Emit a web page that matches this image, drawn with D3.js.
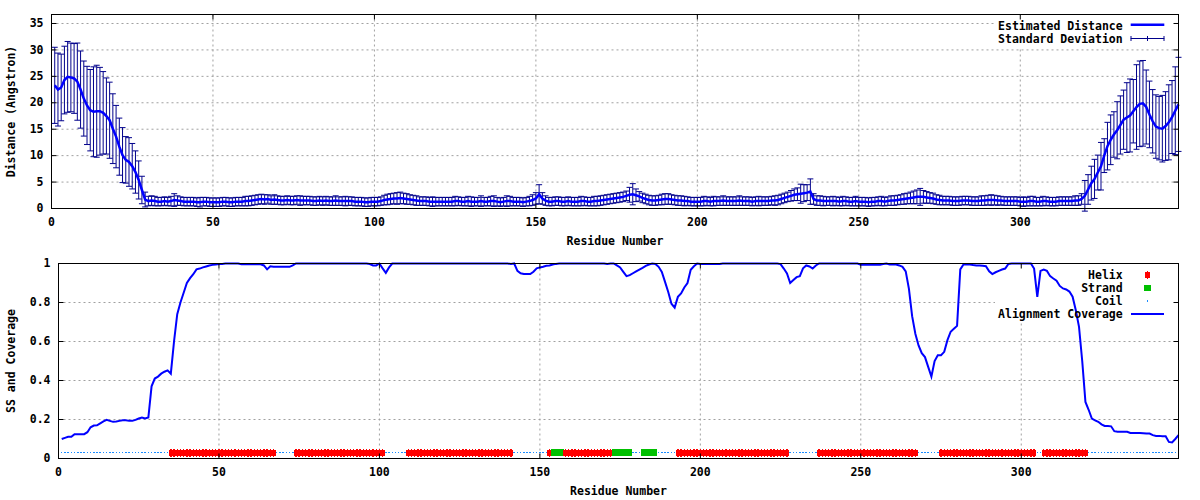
<!DOCTYPE html>
<html><head><meta charset="utf-8">
<script src="https://cdn.jsdelivr.net/npm/d3@7"></script>
<style>
body{margin:0;background:#fff}
svg text{font-family:"DejaVu Sans Mono","Liberation Mono",monospace;font-weight:bold;font-size:11.5px;fill:#000}
</style></head><body><svg id="c" width="1200" height="500"></svg>
<script>
// ---------------- data ----------------
const residueCount = 349;
const xTicks = [0, 50, 100, 150, 200, 250, 300];
const distTicks = [0, 5, 10, 15, 20, 25, 30, 35];
const covTicks = [0, 0.2, 0.4, 0.6, 0.8, 1];
const covTickLabels = ["0", "0.2", "0.4", "0.6", "0.8", "1"];

const distance = [
 23.3,22.5,22.9,24.3,24.9,24.8,24.6,24.0,22.5,20.8,
 19.5,18.6,18.3,18.4,18.4,18.1,17.5,16.7,15.1,13.6,
 11.7,10.1,9.2,8.8,8.0,6.9,5.4,3.5,1.7,1.4,
 1.5,1.4,1.3,1.3,1.4,1.3,1.4,1.6,1.5,1.4,
 1.3,1.3,1.3,1.3,1.2,1.2,1.3,1.3,1.2,1.2,
 1.2,1.2,1.3,1.3,1.2,1.2,1.3,1.3,1.3,1.4,
 1.4,1.5,1.6,1.7,1.8,1.7,1.8,1.6,1.7,1.6,
 1.5,1.5,1.6,1.5,1.5,1.6,1.5,1.5,1.5,1.5,
 1.4,1.4,1.5,1.4,1.5,1.4,1.4,1.5,1.4,1.4,
 1.4,1.4,1.4,1.3,1.3,1.3,1.2,1.2,1.3,1.3,
 1.3,1.4,1.6,1.7,1.8,1.9,1.9,2.0,1.9,1.8,
 1.7,1.6,1.5,1.4,1.4,1.4,1.3,1.3,1.3,1.3,
 1.3,1.3,1.3,1.3,1.4,1.4,1.3,1.3,1.4,1.3,
 1.3,1.3,1.4,1.3,1.3,1.4,1.4,1.3,1.2,1.3,
 1.4,1.4,1.3,1.3,1.3,1.2,1.3,1.4,1.6,1.9,
 2.7,1.9,1.5,1.3,1.3,1.4,1.4,1.3,1.3,1.4,
 1.3,1.3,1.3,1.4,1.4,1.3,1.3,1.4,1.4,1.5,
 1.6,1.7,1.8,1.9,2.0,2.1,2.2,2.4,2.6,2.7,
 2.5,2.3,2.0,1.8,1.6,1.5,1.5,1.6,1.7,1.8,
 1.8,1.7,1.6,1.5,1.5,1.4,1.4,1.3,1.3,1.3,
 1.3,1.4,1.4,1.3,1.4,1.4,1.4,1.5,1.4,1.4,
 1.4,1.4,1.5,1.4,1.4,1.4,1.3,1.4,1.4,1.4,
 1.4,1.4,1.5,1.5,1.6,1.8,2.0,2.2,2.4,2.6,
 2.7,2.8,2.9,3.0,3.2,1.8,1.5,1.5,1.4,1.4,
 1.4,1.4,1.4,1.3,1.4,1.4,1.3,1.3,1.4,1.3,
 1.3,1.3,1.2,1.3,1.3,1.4,1.4,1.3,1.4,1.5,
 1.5,1.6,1.7,1.8,1.9,2.0,2.1,2.2,2.2,2.2,
 2.1,2.0,1.9,1.7,1.6,1.5,1.5,1.5,1.4,1.4,
 1.4,1.5,1.5,1.5,1.4,1.4,1.4,1.5,1.5,1.6,
 1.6,1.6,1.5,1.5,1.4,1.4,1.4,1.4,1.4,1.3,
 1.3,1.3,1.4,1.4,1.3,1.3,1.4,1.4,1.3,1.3,
 1.3,1.4,1.4,1.4,1.4,1.4,1.5,1.5,1.8,2.4,
 3.6,4.8,5.6,6.8,8.0,10.0,11.8,13.0,14.0,14.8,
 15.8,16.8,17.2,17.6,18.4,19.2,19.8,19.9,19.2,17.8,
 16.5,15.5,15.2,15.1,15.6,16.3,17.3,18.5,19.7
];

const stdDev = [
 7.2,6.9,6.3,6.4,6.7,6.5,6.6,7.3,7.3,7.1,
 7.4,7.7,8.5,8.7,8.3,7.8,7.2,7.2,6.6,5.9,
 5.4,5.2,4.4,4.6,4.3,4.0,3.6,2.6,1.4,0.9,
 0.9,0.9,0.8,0.8,0.8,0.8,0.9,1.2,0.9,0.8,
 0.8,0.8,0.8,0.8,0.8,0.9,0.8,0.8,0.8,0.8,
 0.8,0.8,0.8,0.8,0.8,0.8,0.8,0.8,0.8,0.9,
 0.9,0.9,0.9,0.9,0.9,0.9,0.8,0.8,0.9,0.8,
 0.8,0.8,0.8,0.8,0.8,0.8,0.9,0.8,0.8,0.8,
 0.8,0.8,0.8,0.8,0.8,0.8,0.8,0.9,0.8,0.8,
 0.9,0.8,0.8,0.8,0.8,0.8,0.8,0.8,0.8,0.8,
 0.8,0.8,0.9,1.0,1.0,1.0,1.1,1.1,1.0,1.0,
 0.9,0.9,0.9,0.8,0.8,0.8,0.8,0.9,0.8,0.8,
 0.8,0.8,0.8,0.8,0.9,0.8,0.8,0.8,0.9,0.9,
 0.8,0.8,1.0,0.8,0.8,0.9,1.0,0.8,0.8,0.8,
 1.0,0.9,0.8,0.8,0.8,0.8,0.8,0.9,1.0,1.1,
 1.8,1.1,0.9,0.8,0.8,0.8,0.8,0.8,0.8,0.8,
 0.8,0.8,0.8,0.9,0.8,0.8,0.8,0.9,0.9,0.9,
 0.9,0.9,0.9,0.9,0.9,0.9,0.9,0.9,1.4,2.0,
 1.2,0.9,0.9,0.9,0.9,0.9,0.9,0.9,1.0,1.0,
 1.0,0.9,0.9,0.9,0.9,0.9,0.8,0.8,0.8,0.8,
 0.8,0.9,0.8,0.8,0.9,0.8,0.8,0.9,0.8,0.8,
 0.8,0.8,0.9,0.8,0.8,0.8,0.8,0.8,0.9,0.8,
 0.8,0.8,0.8,0.9,0.9,0.9,0.9,0.9,1.0,1.1,
 1.2,1.8,1.6,1.5,2.4,1.0,0.9,0.9,0.9,0.8,
 0.8,0.9,0.8,0.8,0.9,0.8,0.8,0.8,0.9,0.8,
 0.8,0.8,0.8,0.8,0.8,0.8,0.9,0.8,0.8,0.9,
 0.9,0.9,0.9,1.0,1.0,1.1,1.2,1.3,1.6,1.2,
 1.1,1.0,1.0,0.9,0.9,0.8,0.8,0.8,0.8,0.8,
 0.8,0.8,0.8,0.8,0.8,0.8,0.8,0.9,0.9,0.9,
 1.0,0.9,0.9,0.8,0.8,0.8,0.8,0.8,0.8,0.8,
 0.9,0.8,0.9,0.9,0.8,0.8,0.9,0.8,0.8,0.8,
 0.8,0.8,0.8,0.8,0.8,0.8,0.9,0.9,1.0,2.9,
 2.8,3.2,3.7,3.3,4.5,3.2,4.5,4.7,4.3,5.4,
 5.5,5.6,6.6,6.9,6.0,8.0,8.1,8.1,7.0,6.3,
 6.0,6.0,6.0,6.3,6.5,7.1,6.9,8.3,8.9
];

const coverage = [
 0.100,0.106,0.111,0.111,0.125,0.125,0.125,0.125,0.135,0.160,
 0.169,0.170,0.180,0.190,0.198,0.193,0.188,0.190,0.193,0.196,
 0.196,0.193,0.193,0.198,0.205,0.210,0.205,0.210,0.370,0.410,
 0.420,0.435,0.445,0.452,0.435,0.600,0.740,0.800,0.850,0.900,
 0.925,0.945,0.970,0.974,0.980,0.985,0.990,0.993,0.995,0.997,
 0.998,1,1,1,1,1,0.996,0.996,0.996,0.996,
 0.996,0.996,0.996,0.990,0.970,0.986,0.983,0.983,0.983,0.983,
 0.983,0.983,0.990,1,1,1,1,1,1,1,
 1,1,1,1,1,1,1,1,1,1,
 1,1,1,1,1,1,0.997,0.990,0.990,1,
 0.975,0.952,0.980,1,1,1,1,1,1,1,
 1,1,1,1,1,1,1,1,1,1,
 1,1,1,1,1,1,1,1,1,1,
 1,1,1,1,1,1,1,1,1,1,
 0.997,1,0.962,0.950,0.946,0.946,0.946,0.958,0.975,0.980,
 0.983,0.988,0.990,0.995,0.998,1,1,1,1,1,
 1,1,1,1,1,1,1,1,1,1,
 0.997,1,1,0.990,0.980,0.957,0.935,0.940,0.950,0.960,
 0.969,0.978,0.988,0.995,1,0.998,0.983,0.957,0.906,0.854,
 0.794,0.774,0.829,0.846,0.877,0.900,0.968,0.986,1,0.997,
 0.997,0.997,0.997,0.997,0.997,0.997,1,1,1,1,
 1,1,1,1,1,1,1,1,1,1,
 1,1,1,1,0.997,0.974,0.949,0.900,0.915,0.930,
 0.935,0.975,0.990,0.985,0.974,0.990,1,1,1,1,
 1,1,1,1,1,1,1,1,1,0.993,
 0.993,0.993,0.993,0.993,0.993,0.993,0.997,1,0.995,0.995,
 0.995,0.990,0.983,0.960,0.870,0.730,0.640,0.580,0.540,0.520,
 0.470,0.420,0.500,0.530,0.530,0.547,0.607,0.650,0.665,0.680,
 0.970,0.995,0.995,0.995,0.992,0.990,0.990,0.988,0.986,0.960,
 0.946,0.955,0.962,0.969,0.974,0.998,1,1,1,1,
 1,1,1,0.974,0.829,0.962,0.969,0.962,0.935,0.923,
 0.912,0.885,0.872,0.867,0.856,0.830,0.760,0.675,0.500,0.290,
 0.250,0.205,0.196,0.188,0.175,0.167,0.167,0.165,0.140,0.137,
 0.137,0.137,0.137,0.131,0.131,0.131,0.131,0.130,0.128,0.128,
 0.120,0.116,0.116,0.114,0.114,0.085,0.082,0.100,0.120
];

const helixSegments = [[35,67],[74,101],[109,141],[153,153],[158,172],[193,227],[237,267],[275,304],[307,320]];
const strandSegments = [[154,157],[173,178],[182,186]];
const ssLevel = 0.03;

// ---------------- drawing ----------------
const svg = d3.select("#c");
svg.append("rect").attr("width",1200).attr("height",500).attr("fill","#fff");
const residues = d3.range(1, residueCount + 1);
const gridColor = "#a0a0a0";
const errColor = "#00008b";
const lineColor = "#0000ff";

function drawFrame(x, y, yTicks, box) {
  const g = svg.append("g");
  g.selectAll(".gx").data(xTicks.filter(d => d > 0)).enter().append("line")
    .attr("x1", d => x(d)).attr("x2", d => x(d))
    .attr("y1", y.range()[1]).attr("y2", y.range()[0])
    .attr("stroke", gridColor).attr("stroke-dasharray", "2,3");
  g.selectAll(".gy").data(yTicks.filter(d => d > 0 && y(d) > y.range()[1] + 1)).enter().append("line")
    .attr("x1", x.range()[0]).attr("x2", x.range()[1])
    .attr("y1", d => y(d)).attr("y2", d => y(d))
    .attr("stroke", gridColor).attr("stroke-dasharray", "2,3");
  g.append("rect").attr("x", box[0]).attr("y", box[1]).attr("width", box[2]).attr("height", box[3]).attr("fill", "#fff");
}

function drawAxes(x, y, yTicks, yFmt) {
  const g = svg.append("g");
  const x0 = x.range()[0], x1 = x.range()[1], yb = y.range()[0], yt = y.range()[1];
  g.append("g").attr("transform", `translate(0,${yb})`)
    .call(d3.axisBottom(x).tickValues(xTicks).tickSize(-5).tickPadding(9).offset(0));
  g.append("g").attr("transform", `translate(0,${yt})`)
    .call(d3.axisTop(x).tickValues(xTicks).tickSize(-5).tickFormat("").offset(0));
  g.append("g").attr("transform", `translate(${x0},0)`)
    .call(d3.axisLeft(y).tickValues(yTicks).tickSize(-5).tickPadding(8).tickFormat(yFmt).offset(0));
  g.append("g").attr("transform", `translate(${x1},0)`)
    .call(d3.axisRight(y).tickValues(yTicks).tickSize(-5).tickFormat("").offset(0));
  g.selectAll(".domain").remove();
  g.selectAll(".tick line").attr("stroke", "#000");
  g.selectAll(".tick text").attr("fill", "#000");
  g.selectAll("g").attr("font-family", null).attr("font-size", null);
  g.append("rect").attr("x", x0).attr("y", yt).attr("width", x1 - x0).attr("height", yb - yt)
    .attr("fill", "none").attr("stroke", "#000").attr("stroke-width", 1);
}

// ===== Top chart =====
const xT = d3.scaleLinear().domain([0, residueCount]).range([51.5, 1178.5]);
const yT = d3.scaleLinear().domain([0, 36.7]).range([208.5, 14.5]);
drawFrame(xT, yT, distTicks, [995, 15, 182, 33]);

const eb = svg.append("g").attr("stroke", errColor).attr("stroke-width", 1).attr("fill", "none");
residues.forEach((r, i) => {
  const m = distance[i], s = stdDev[i];
  const px = xT(r), lo = yT(m - s), hi = yT(m + s);
  eb.append("line").attr("x1", px).attr("x2", px).attr("y1", lo).attr("y2", hi);
  eb.append("line").attr("x1", px - 3).attr("x2", px + 3).attr("y1", lo).attr("y2", lo);
  eb.append("line").attr("x1", px - 3).attr("x2", px + 3).attr("y1", hi).attr("y2", hi);
});
svg.append("path").datum(residues)
  .attr("d", d3.line().x(r => xT(r)).y((r, i) => yT(distance[i])))
  .attr("fill", "none").attr("stroke", lineColor).attr("stroke-width", 2.5);

drawAxes(xT, yT, distTicks, d => d);

svg.append("text").attr("transform", "translate(11,111.5) rotate(-90)")
  .attr("text-anchor", "middle").attr("dominant-baseline", "central").text("Distance (Angstron)");
svg.append("text").attr("x", 615).attr("y", 241).attr("text-anchor", "middle")
  .attr("dominant-baseline", "central").text("Residue Number");

svg.append("text").attr("x", 1122.7).attr("y", 25.5).attr("text-anchor", "end").attr("dominant-baseline", "central").text("Estimated Distance");
svg.append("line").attr("x1", 1130.7).attr("x2", 1164.3).attr("y1", 24.7).attr("y2", 24.7).attr("stroke", lineColor).attr("stroke-width", 2.5);
svg.append("text").attr("x", 1122.7).attr("y", 38.8).attr("text-anchor", "end").attr("dominant-baseline", "central").text("Standard Deviation");
const lg = svg.append("g").attr("stroke", errColor).attr("stroke-width", 1);
lg.append("line").attr("x1", 1130.7).attr("x2", 1164.3).attr("y1", 38.5).attr("y2", 38.5);
[1131, 1147.5, 1164].forEach(px => lg.append("line").attr("x1", px).attr("x2", px).attr("y1", 36).attr("y2", 41));

// ===== Bottom chart =====
const xB = d3.scaleLinear().domain([0, residueCount]).range([58.5, 1178.5]);
const yB = d3.scaleLinear().domain([0, 1]).range([458.5, 263.5]);
drawFrame(xB, yB, covTicks, [995, 264, 182, 57]);

const ssOf = r => {
  if (helixSegments.some(s => r >= s[0] && r <= s[1])) return "H";
  if (strandSegments.some(s => r >= s[0] && r <= s[1])) return "E";
  return "C";
};
const ssG = svg.append("g").attr("shape-rendering", "crispEdges");
const yss = yB(ssLevel);
function helixMark(g, px, py) {
  g.append("rect").attr("x", px - 2.2).attr("y", py - 3).attr("width", 4.4).attr("height", 6).attr("fill", "#ff0000");
  g.append("rect").attr("x", px - 0.7).attr("y", py - 4).attr("width", 1.4).attr("height", 8).attr("fill", "#ff0000");
}
function strandMark(g, px, py, w) {
  g.append("rect").attr("x", px - w / 2).attr("y", py - 3.3).attr("width", w).attr("height", 6.7).attr("fill", "#00c000");
}
function coilMark(g, px, py) {
  g.append("rect").attr("x", px - 0.75).attr("y", py - 0.75).attr("width", 1.5).attr("height", 1.5).attr("fill", "#1a8cff");
}
residues.forEach(r => { if (ssOf(r) === "C") coilMark(ssG, xB(r), yss); });
residues.forEach(r => {
  const t = ssOf(r);
  if (t === "H") helixMark(ssG, xB(r), yss);
  else if (t === "E") strandMark(ssG, xB(r), yss, 4);
});

svg.append("path").datum(residues)
  .attr("d", d3.line().x(r => xB(r)).y((r, i) => yB(coverage[i])))
  .attr("fill", "none").attr("stroke", lineColor).attr("stroke-width", 2);

drawAxes(xB, yB, covTicks, (d, i) => covTickLabels[i]);

svg.append("text").attr("transform", "translate(11,361) rotate(-90)")
  .attr("text-anchor", "middle").attr("dominant-baseline", "central").text("SS and Coverage");
svg.append("text").attr("x", 618.5).attr("y", 491).attr("text-anchor", "middle")
  .attr("dominant-baseline", "central").text("Residue Number");

const lgB = svg.append("g").attr("shape-rendering", "crispEdges");
const legendRows = [["Helix", 275], ["Strand", 288], ["Coil", 301], ["Alignment Coverage", 313.7]];
legendRows.forEach(([t, yy]) => lgB.append("text").attr("x", 1122.7).attr("y", yy).attr("text-anchor", "end").attr("dominant-baseline", "central").text(t));
helixMark(lgB, 1147.3, 274.5);
strandMark(lgB, 1147.3, 288, 6.7);
coilMark(lgB, 1147.3, 301);
lgB.append("line").attr("x1", 1130.7).attr("x2", 1164.3).attr("y1", 313.5).attr("y2", 313.5).attr("stroke", lineColor).attr("stroke-width", 2);
</script></body></html>
